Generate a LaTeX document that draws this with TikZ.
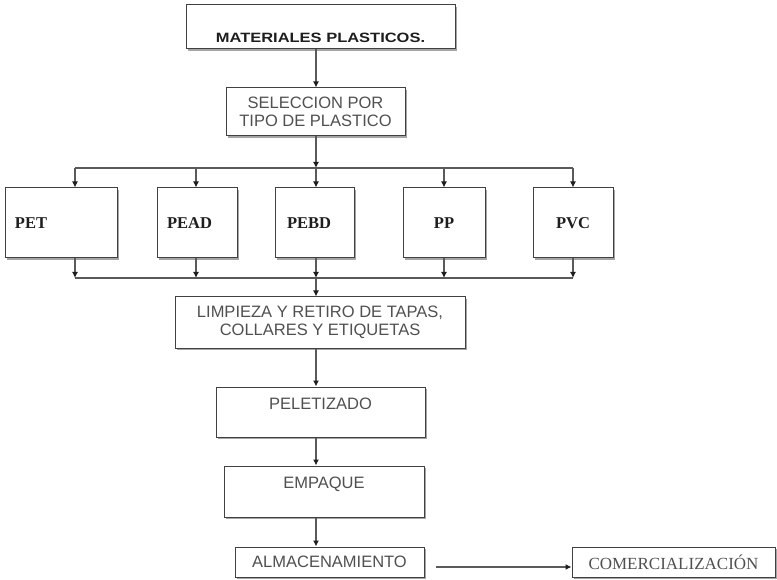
\documentclass[tikz,border=0pt]{standalone}
\usepackage{fontspec}
\setmainfont{Liberation Sans}
\newfontfamily\serifbody{Liberation Serif}
\newfontfamily\widebold[FakeStretch=1.22]{Liberation Sans Bold}
\usetikzlibrary{
  arrows.meta,
  positioning,
  shadows
}
\definecolor{boxcolor}{RGB}{65, 65, 65}
\definecolor{shadowcolor}{RGB}{165, 165, 165}
\definecolor{labelcolor}{RGB}{80, 80, 80}
\definecolor{titlecolor}{RGB}{30, 30, 30}
\definecolor{arrowcolor}{RGB}{90, 90, 90}
\definecolor{tipcolor}{RGB}{30, 30, 30}
\tikzset{
procbox/.style={
  draw=boxcolor,
  line width=1pt,
  fill=white,
  drop shadow={shadow xshift=2pt, shadow yshift=-2pt, fill=shadowcolor, opacity=1},
  inner sep=3pt,
  align=center,
  font=\fontsize{16.5}{18.5}\selectfont,
  text=labelcolor
},
titlebox/.style={
  procbox,
  font=\widebold\fontsize{13.5}{16}\selectfont,
  text=titlecolor,
  text height=32pt,
  text depth=1pt
},
upperbox/.style={
  procbox,
  text height=12pt,
  text depth=18pt
},
typebox/.style={
  procbox,
  minimum height=70pt,
  font=\serifbody\bfseries\fontsize{16.5}{18}\selectfont,
  text=titlecolor
},
typeleft/.style={
  typebox,
  inner xsep=10pt,
  text width=#1,
  align=left
},
marketbox/.style={
  procbox,
  font=\serifbody\fontsize{17}{19}\selectfont
},
arrow/.style={
  -{Latex[length=6pt,width=6pt,color=tipcolor]},
  line width=1.3pt,
  draw=arrowcolor
},
busline/.style={
  line width=1.3pt,
  draw=arrowcolor
}
}
\begin{document}
\begin{tikzpicture}[x=1pt, y=-1pt]
      \useasboundingbox (0,0) rectangle (777,580);

      \node[titlebox, minimum width=269pt, minimum height=44pt] (mat) at (320.5,27) {MATERIALES PLASTICOS.};
      \node[procbox, minimum width=179pt, minimum height=48pt] (sel) at (315.5,112) {SELECCION POR\\TIPO DE PLASTICO};

      \node[typeleft=92pt] (pet) at (61,223) {PET};
      \node[typeleft=60pt] (pead) at (197,223) {PEAD};
      \node[typeleft=55pt, inner xsep=12pt] (pebd) at (314.5,223) {PEBD};
      \node[typebox, minimum width=82pt] (pp) at (444,223) {PP};
      \node[typebox, minimum width=80pt] (pvc) at (573,223) {PVC};

      \node[procbox, minimum width=290pt, minimum height=51pt] (limp) at (320,322.5) {LIMPIEZA Y RETIRO DE TAPAS,\\COLLARES Y ETIQUETAS};
      \node[upperbox, minimum width=209pt, minimum height=50pt] (pel) at (320.5,412) {PELETIZADO};
      \node[upperbox, minimum width=200pt, minimum height=51pt] (emp) at (324,491.5) {EMPAQUE};
      \node[procbox, minimum width=189pt, minimum height=30pt] (alm) at (329.5,562) {ALMACENAMIENTO};
      \node[marketbox, minimum width=203pt, minimum height=30pt] (com) at (673.5,562) {COMERCIALIZACIÓN};

      \coordinate (spine) at (316,0);
      \coordinate (bustop) at (316,168);
      \coordinate (busbot) at (316,278);

      \draw[arrow] (mat.south -| spine) -- (sel.north -| spine);
      \draw[arrow] (sel.south -| spine) -- (bustop);
      \draw[busline] (75,168) coordinate (t1) -- (573,168) coordinate (t5);
      \draw[busline] (75,278) coordinate (b1) -- (573,278) coordinate (b5);

      \foreach \nm/\xx in {pet/75, pead/196, pebd/316, pp/444, pvc/573} {
        \coordinate (top-\nm) at (\xx,168);
        \coordinate (bot-\nm) at (\xx,278);
        \draw[arrow] (top-\nm) -- (\nm.north -| top-\nm);
        \draw[arrow] (\nm.south -| bot-\nm) -- (bot-\nm);
      }

      \draw[arrow] (busbot) -- (limp.north -| busbot);
      \draw[arrow] (limp.south -| spine) -- (pel.north -| spine);
      \draw[arrow] (pel.south -| spine) -- (emp.north -| spine);
      \draw[arrow] (emp.south -| spine) -- (alm.north -| spine);
      \draw[arrow] ([shift={(11,5)}]alm.east) -- ([yshift=-5pt]com.west);
    \end{tikzpicture}
\end{document}
